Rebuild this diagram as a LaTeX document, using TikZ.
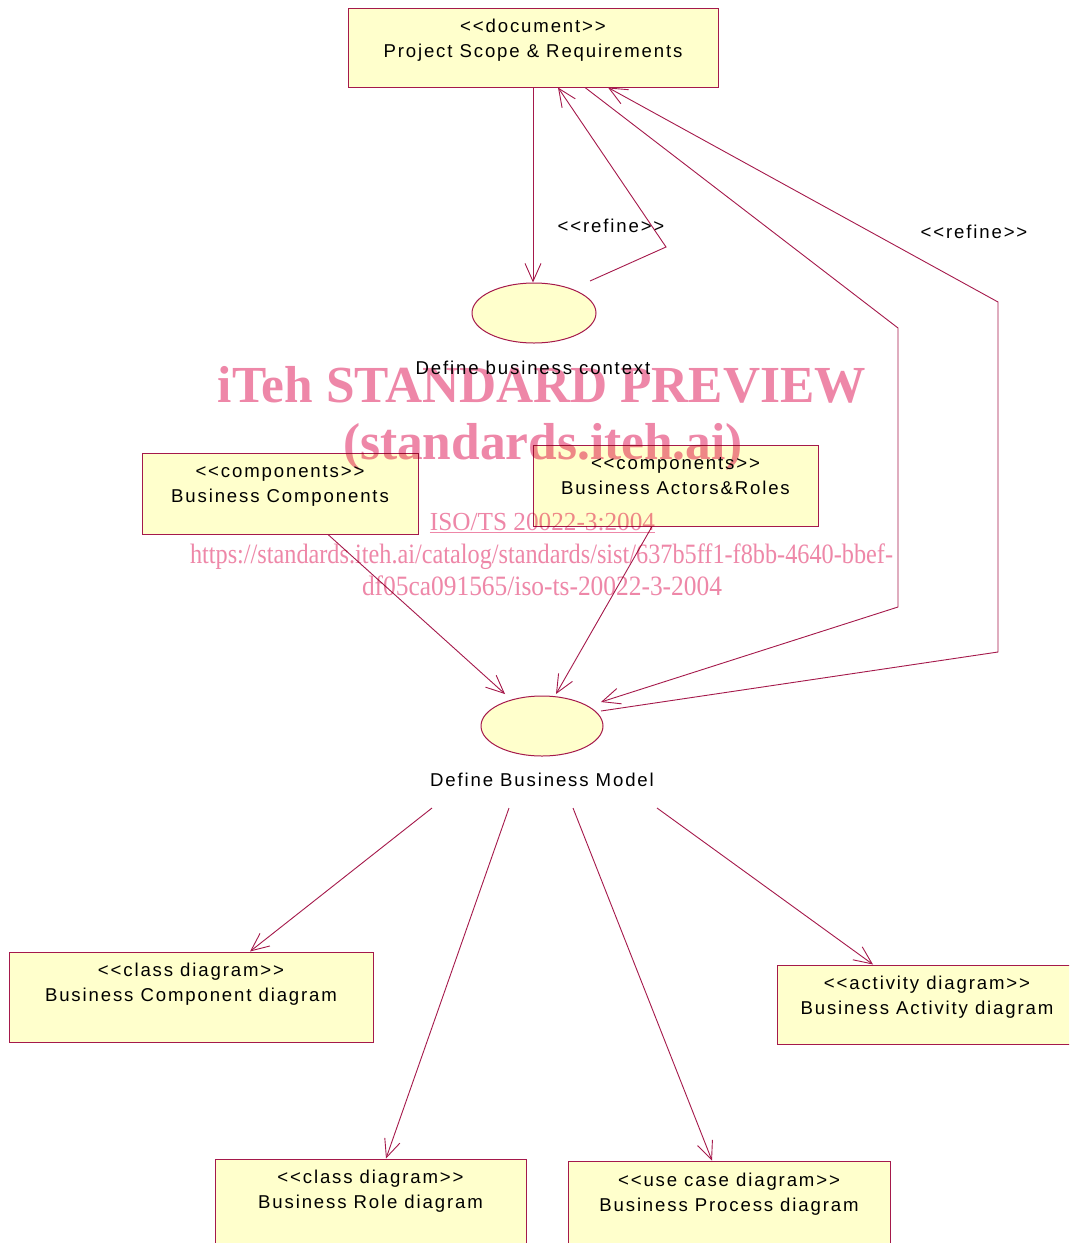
\documentclass[tikz,border=0pt]{standalone}
\usepackage{fontspec}
\usepackage{graphicx}
\usetikzlibrary{arrows.meta,shapes.geometric,calc}
\newfontfamily\diafont[LetterSpace=10,Ligatures=TeXOff]{Liberation Sans}
\newfontfamily\wmfont{Liberation Serif}
\definecolor{bcol}{RGB}{165,25,75}
\definecolor{ycol}{RGB}{255,255,204}
\definecolor{wmcol}{RGB}{238,135,168}
\newcommand\boxtext[3]{\rule{0pt}{13pt}#1\\#2\rule[-#3pt]{0pt}{0pt}}
\tikzset{
 box/.style={draw=bcol, fill=ycol, line width=1pt, rectangle, inner sep=0pt, align=center, font=\diafont\fontsize{18.6}{25}\selectfont},
 uc/.style={draw=bcol, fill=ycol, line width=1pt, ellipse, inner sep=0pt},
 lbl/.style={font=\diafont\fontsize{18.6}{25}\selectfont, inner sep=0pt},
 conn/.style={draw=bcol, line width=0.9pt},
 arr/.style={conn, -{Straight Barb[length=18pt,width=16pt]}},
 wmtext/.style={text=wmcol, inner sep=0pt, anchor=base},
}
\begin{document}
\begin{tikzpicture}[x=1pt,y=-1pt]
\useasboundingbox (0,0) rectangle (1069,1243);
\clip (0,0) rectangle (1069,1243);
\fill[white] (0,0) rectangle (1069,1243);

% boxes
\node[box,minimum width=370pt,minimum height=79pt] (doc) at (533,47.5) {\boxtext{<<document>>}{Project Scope \& Requirements}{19}};
\node[box,minimum width=276pt,minimum height=81pt] (comp) at (280,493.5) {\boxtext{<<components>>}{Business Components}{21}};
\node[box,minimum width=285pt,minimum height=81pt] (actors) at (675.5,485.5) {\boxtext{<<components>>}{Business Actors\&Roles}{21}};
\node[box,minimum width=364pt,minimum height=90pt] (bcd) at (191,997) {\boxtext{<<class diagram>>}{Business Component diagram}{30}};
\node[box,minimum width=311pt,minimum height=90pt] (brd) at (370.5,1204) {\boxtext{<<class diagram>>}{Business Role diagram}{30}};
\node[box,minimum width=322pt,minimum height=90pt] (bpd) at (729,1206) {\boxtext{<<use case diagram>>}{Business Process diagram}{28}};
\node[box,minimum width=300pt,minimum height=79pt] (bad) at (927,1004.5) {\boxtext{<<activity diagram>>}{Business Activity diagram}{19}};

% use cases
\node[uc,minimum width=124pt,minimum height=60pt] (e1) at (534,313) {};
\node[uc,minimum width=122pt,minimum height=60pt] (e2) at (542,726) {};

% labels
\node[lbl] (lctx) at (533,368) {Define business context};
\node[lbl] (lbm) at (542,780) {Define Business Model};
\node[lbl] (ref1) at (611,226) {<<refine>>};
\node[lbl] (ref2) at (974,232) {<<refine>>};

% bend points and free ends
\coordinate (k1) at (666,247);
\coordinate (k2) at (898,328);
\coordinate (k3) at (898,607);
\coordinate (k4) at (998,652);
\coordinate (k5) at (998,302);
\coordinate (s1) at (432,808);
\coordinate (s2) at (509,808);
\coordinate (s3) at (573,808);
\coordinate (s4) at (657,808);

% connectors
\draw[arr] (doc.south) -- (doc.south |- e1.north);
\draw[arr] ($(e1.center)+(56,-32)$) -- (k1) -- ($(doc.south)+(25,0)$);
\draw[arr] ($(doc.south)+(52,0)$) -- (k2) -- (k3) -- ($(e2.center)+(59,-24)$);
\draw[arr] ($(e2.center)+(59,-15)$) -- (k4) -- (k5) -- ($(doc.south)+(75,0)$);
\draw[arr] ($(comp.south)+(48,0)$) -- ($(e2.center)+(-37,-32)$);
\draw[arr] ($(actors.south)+(-23.5,0)$) -- ($(e2.center)+(14,-32)$);
\draw[arr] (s1) -- ($(bcd.north)+(59,0)$);
\draw[arr] (s2) -- ($(brd.north)+(15.5,0)$);
\draw[arr] (s3) -- ($(bpd.north)+(-17,0)$);
\draw[arr] (s4) -- ($(bad.north)+(-54,0)$);

% watermark
\begin{scope}[blend mode=multiply]
\node[wmtext] (wm1) at (542,402) {\resizebox{648pt}{\height}{\wmfont\bfseries\fontsize{52}{52}\selectfont iTeh STANDARD PREVIEW}};
\node[wmtext] (wm2) at (543,459) {\resizebox{400pt}{\height}{\wmfont\bfseries\fontsize{52}{52}\selectfont (standards.iteh.ai)}};
\node[wmtext] (wm3) at (542.5,530) {\resizebox{225pt}{\height}{\wmfont\fontsize{26}{26}\selectfont \underline{ISO/TS 20022-3:2004}}};
\node[wmtext] (wm4) at (541.5,563) {\resizebox{703pt}{\height}{\wmfont\fontsize{28}{28}\selectfont https://standards.iteh.ai/catalog/standards/sist/637b5ff1-f8bb-4640-bbef-}};
\node[wmtext] (wm5) at (542,595) {\resizebox{360pt}{\height}{\wmfont\fontsize{28}{28}\selectfont df05ca091565/iso-ts-20022-3-2004}};
\end{scope}
\end{tikzpicture}
\end{document}
